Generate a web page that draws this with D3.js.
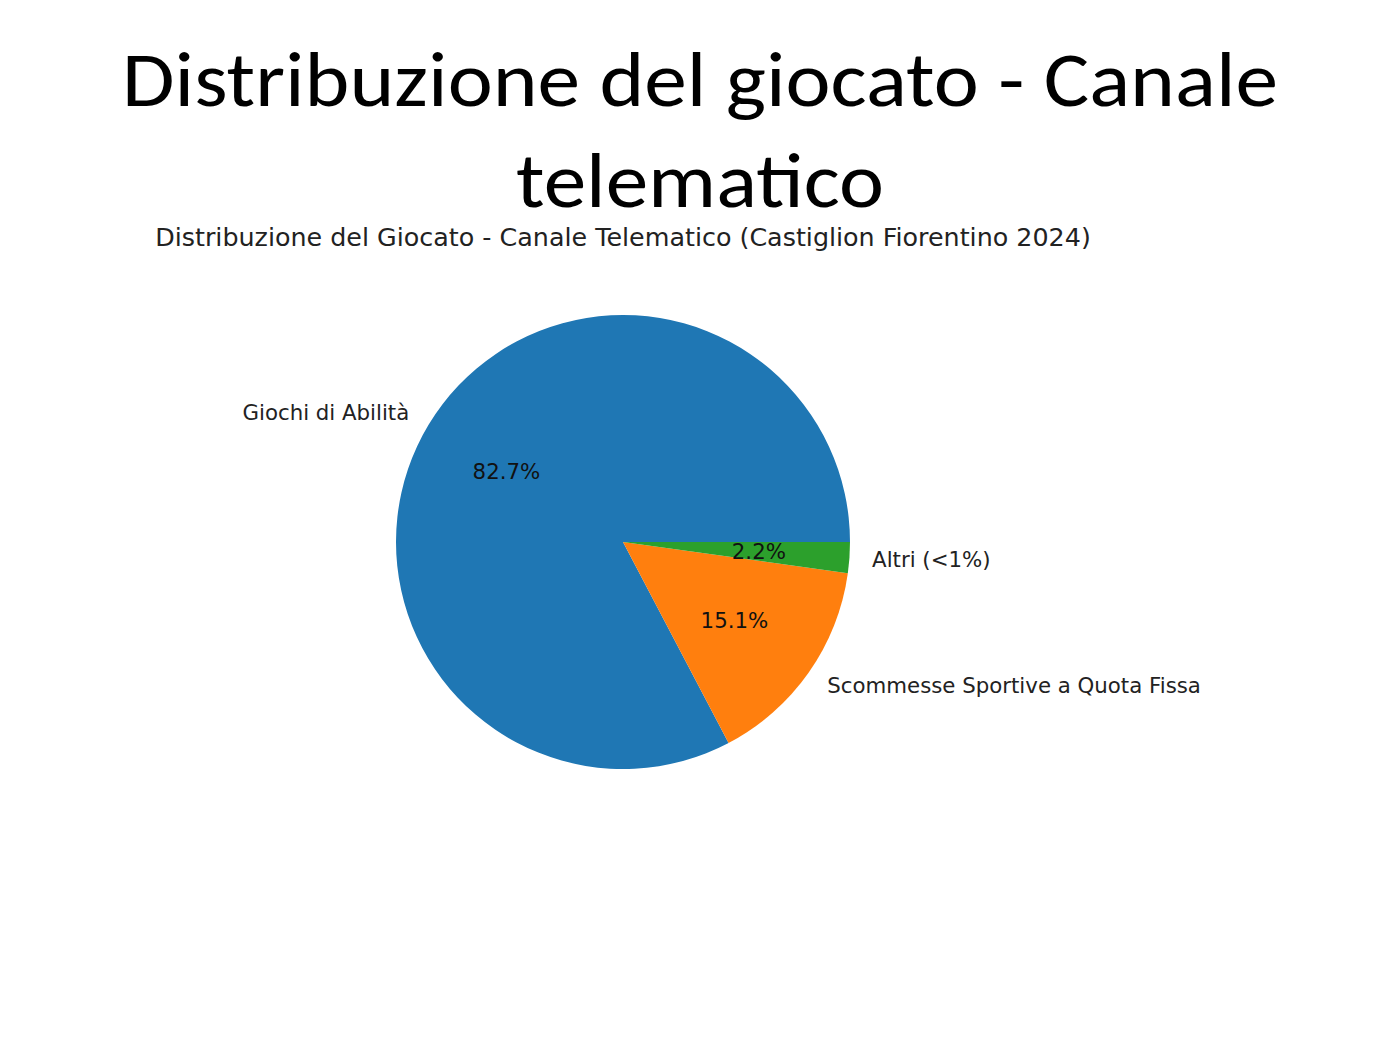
<!DOCTYPE html>
<html>
<head>
<meta charset="utf-8">
<script src="https://cdn.jsdelivr.net/npm/d3@7"></script>
<style>
  html, body { margin: 0; padding: 0; background: #fff; }
</style>
</head>
<body>
<svg id="chart" width="1400" height="1050"></svg>
<script>
// ---- data ----
const categories = ["Giochi di Abilità", "Scommesse Sportive a Quota Fissa", "Altri (<1%)"];
const values = [82.7, 15.1, 2.2];
const colors = ["#1f77b4", "#ff7f0e", "#2ca02c"];
const titleLines = ["Distribuzione del giocato - Canale", "telematico"];
const subtitle = "Distribuzione del Giocato - Canale Telematico (Castiglion Fiorentino 2024)";

const svg = d3.select("#chart");
svg.append("rect").attr("width", 1400).attr("height", 1050).attr("fill", "#fff");

function fit(sel, target) {
  const w = sel.node().getComputedTextLength();
  const fs = parseFloat(sel.attr("font-size"));
  sel.attr("font-size", fs * target / w);
}

// slide title
const tfont = "Carlito, Calibri, Lato, 'Open Sans', sans-serif";
const t1 = svg.append("text").attr("x", 700).attr("y", 106).attr("text-anchor", "middle")
  .attr("font-family", tfont).attr("font-size", 79).attr("fill", "#000").text(titleLines[0]);
t1.attr("textLength", 1156).attr("lengthAdjust", "spacingAndGlyphs");
const t2 = svg.append("text").attr("x", 700).attr("y", 207).attr("text-anchor", "middle")
  .attr("font-family", tfont).attr("font-size", 79).attr("fill", "#000").text(titleLines[1]);
t2.attr("textLength", 368).attr("lengthAdjust", "spacingAndGlyphs");

// chart subtitle
const cx = 623, cy = 542, r = 227;
const st = svg.append("text").attr("x", cx).attr("y", 246).attr("text-anchor", "middle")
  .attr("font-family", "'DejaVu Sans', sans-serif").attr("font-size", 21).attr("fill", "#222").text(subtitle);
fit(st, 936);

// pie (matplotlib style: start at 3 o'clock, counter-clockwise)
const pie = d3.pie().sort(null).value(d => d.v)
  .startAngle(Math.PI / 2).endAngle(Math.PI / 2 - 2 * Math.PI);
const data = categories.map((c, i) => ({ c, v: values[i], col: colors[i] }));
const arcs = pie(data);
const arc = d3.arc().innerRadius(0).outerRadius(r);
const g = svg.append("g").attr("transform", `translate(${cx},${cy})`);

g.selectAll("path").data(arcs).join("path")
  .attr("d", arc).attr("fill", d => d.data.col);

const total = d3.sum(values);
const mid = d => (d.startAngle + d.endAngle) / 2;
const lfs = 21.3;
g.selectAll("text.lbl").data(arcs).join("text").attr("class", "lbl")
  .attr("x", d => 1.1 * r * Math.sin(mid(d)))
  .attr("y", d => -1.1 * r * Math.cos(mid(d)))
  .attr("dy", "0.35em")
  .attr("text-anchor", d => Math.sin(mid(d)) >= 0 ? "start" : "end")
  .attr("font-family", "'DejaVu Sans', sans-serif").attr("font-size", lfs).attr("fill", "#222")
  .text(d => d.data.c);

g.selectAll("text.pct").data(arcs).join("text").attr("class", "pct")
  .attr("x", d => 0.6 * r * Math.sin(mid(d)))
  .attr("y", d => -0.6 * r * Math.cos(mid(d)))
  .attr("dy", "0.35em")
  .attr("text-anchor", "middle")
  .attr("font-family", "'DejaVu Sans', sans-serif").attr("font-size", lfs).attr("fill", "#111")
  .text(d => (d.data.v / total * 100).toFixed(1) + "%");
</script>
</body>
</html>
